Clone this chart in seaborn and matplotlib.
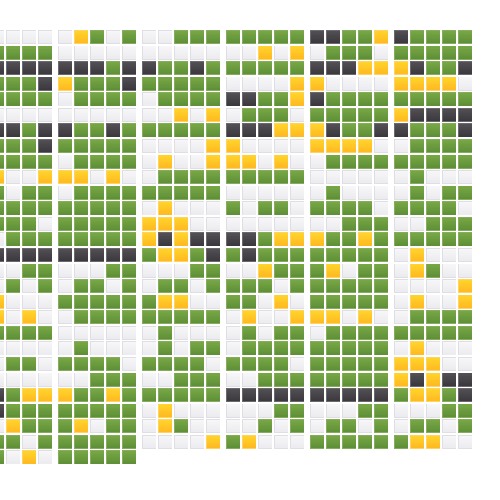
import numpy as np
import matplotlib
matplotlib.use("Agg")
import matplotlib.pyplot as plt
from matplotlib.colors import ListedColormap, LinearSegmentedColormap
import seaborn as sns

sns.set_theme(style="white")

# W light, G green, O orange, D dark, . empty
group_a = ["WWWW", "GGGG", "DDDD", "GGGD", "GGGG", "WWWW", "DDGD", "GGGD", "GGGG", "OWWO",
           "GWGG", "GGGG", "GGGW", "WGGG", "DDDD", "WWGG", "WGWG", "OWWW", "OWOW", "GGGG",
           "WWWW", "WGGW", "WWWW", "DGOO", "DGGG", "WOGG", "GGWG", "GWOW"]
group_b = ["WOGWG", "WWWWW", "DDDGD", "OGGGD", "WGGGG", "WWWWW", "DGGDG", "GGGGG", "WGGGG", "OOWOW",
           "WGGGG", "GGGGG", "GGGGG", "GGGGG", "DDDDD", "WWWGG", "WGGWG", "GGGGG", "WGGGG", "WWWWW",
           "WGWWW", "GGGGW", "WWGGG", "OGGOG", "GGGGG", "GOWGG", "GGGGG", "GGGGG"]
group_c = ["WWGGG", "WWWWW", "DGGDG", "GGGGG", "WGGGG", "WWOWO", "GGGGG", "WWWWO", "WOWWO", "WGGGG",
           "GGGGG", "WOWWW", "OOOWW", "ODODD", "GOOGD", "WWWGG", "WGGWG", "GOOWW", "GGGGG", "WGWWW",
           "WGWGG", "GGGGW", "WWGGG", "GGGGG", "WOWWW", "WOGWW", "WWWWO", "....."]
group_d = ["GGGGG", "WWOWO", "GGGGG", "WWWWO", "DDGGO", "WGGGW", "DDDOO", "OWWWW", "OOWOW", "GGGGG",
           "WWWWW", "GWGGW", "WWWWW", "DDGOO", "GDGGG", "WWOGG", "GGGWG", "GGWOW", "WOWWO", "WGWGG",
           "WGGGG", "GGGGW", "WWGGG", "DDDDD", "WWWGG", "WWGWG", "GOWWW", "....."]
group_e = ["DDGGO", "WGGGW", "DDDOO", "OWWWW", "DGGGG", "GGGGG", "ODGGD", "OOOOW", "WGGGG", "WWWWW",
           "WGWWW", "GGGGW", "WWGGG", "OGGOG", "GGGGG", "GOWGG", "GGGGG", "GGGGG", "OOWOW", "WGGGG",
           "GGGGG", "GGGGG", "GGGGG", "DDDDD", "WWWGG", "WGGWG", "GGGGG", "....."]
group_f = ["DGGGG", "GGGGG", "ODGGD", "OOOOW", "GGGGG", "ODDDD", "DGGGD", "WGGGG", "GGGGG", "WGWWW",
           "WGWGG", "GGGGW", "WWGGG", "GGGGG", "WOWWW", "WOGWW", "WWWWO", "WOWWO", "WGGGG", "GGGGG",
           "WOWWW", "OOOWW", "ODODD", "GOOGD", "WWWGG", "WGGWG", "GOOWW", "....."]

categories = ["W", "G", "O", "D"]
# each state's little gradient, plus the paler rim round the cell
top_colors = ["#f7f7f9", "#78a845", "#ffd42b", "#535156"]
bottom_colors = ["#eaeaee", "#5a8b35", "#ffb520", "#363438"]
rim_colors = ["#dfdfe3", "#86ad5e", "#ffd35f", "#6b696e"]

groups = [group_a, group_b, group_c, group_d, group_e, group_f]
group_left = [-10, 58, 142, 226, 310, 394]
n_rows = 28
top = 30
pitch_x, pitch_y = 16, 15.57
sub = 20
shades = 32

colors = []
for t, b, r in zip(top_colors, bottom_colors, rim_colors):
    grad = LinearSegmentedColormap.from_list("g", [t, b])
    colors += [grad(i / (shades - 2)) for i in range(shades - 1)] + [r]
cmap = ListedColormap(colors)

def to_matrix(group):
    rows = []
    for line in group:
        rows.append([categories.index(c) if c in categories else np.nan for c in line])
    return np.array(rows, dtype=float)

# shade inside one cell, top to bottom, then rim and white gutter round it
shade = np.tile(np.linspace(0, 0.95, sub)[:, None], (1, sub))
shade[[0, sub - 3], :] = 0.99
shade[:, [0, sub - 3]] = 0.99
gutter = np.zeros((sub, sub), dtype=bool)
gutter[-2:, :] = True
gutter[:, -2:] = True

fig = plt.figure(figsize=(5, 5), dpi=100)
for group, left in zip(groups, group_left):
    m = to_matrix(group)
    big = np.kron(m, np.ones((sub, sub))) + np.tile(shade, m.shape)
    big[np.tile(gutter, m.shape)] = np.nan
    w = m.shape[1] * pitch_x
    h = n_rows * pitch_y
    ax = fig.add_axes([left / 500, 1 - (top + h) / 500, w / 500, h / 500])
    sns.heatmap(big, ax=ax, cmap=cmap, vmin=0, vmax=4, cbar=False, xticklabels=False, yticklabels=False)

fig.savefig("out.png", dpi=100, facecolor="white")
